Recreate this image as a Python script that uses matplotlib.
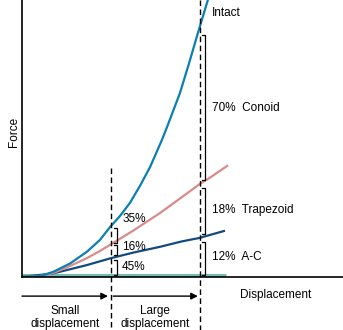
import matplotlib.pyplot as plt

plt.rcParams['font.family'] = ['Liberation Sans', 'DejaVu Sans']

# curves (displacement 0-10, force 0-100)
intact_x = [0, 0.56, 0.98, 1.50, 2.02, 2.43, 2.74, 3.05, 3.36, 3.68, 3.99, 4.36,
            4.52, 4.92, 5.20, 5.48, 5.79]
intact_y = [0, 0.3, 1.9, 4.9, 9.1, 13.4, 18.0, 22.0, 26.7, 33.0, 39.7, 49.5,
            54.2, 66.4, 77.0, 88.1, 100]
trap_x = [0, 0.56, 0.97, 1.50, 2.02, 2.43, 2.77, 3.50, 4.30, 5.00, 5.53, 5.86, 6.39]
trap_y = [0, 0.4, 1.4, 4.0, 6.8, 9.4, 11.8, 17.0, 23.1, 29.0, 33.5, 35.9, 40.1]
ac_x = [0, 0.97, 1.50, 2.02, 2.77, 3.50, 4.30, 5.00, 5.53, 5.86, 6.29]
ac_y = [0, 1.3, 2.8, 4.3, 6.8, 8.9, 10.9, 12.9, 14.1, 15.2, 16.6]
base_x = [0, 6.36]
base_y = [0.7, 0.7]

small_pct = ['35%', '16%', '45%']
large_labels = ['70%  Conoid', '18%  Trapezoid', '12%  A-C']

fig = plt.figure(figsize=(3.43, 3.30), dpi=100)
ax = fig.add_axes([22/343, 53/330, 321/343, 277/330])
ax.set_xlim(0, 10)
ax.set_ylim(0, 100)
ax.spines['top'].set_visible(False)
ax.spines['right'].set_visible(False)
ax.spines['left'].set_linewidth(1.2)
ax.spines['bottom'].set_linewidth(1.2)
ax.set_xticks([])
ax.set_yticks([])

ax.plot(base_x, base_y, color='#72bdb5', lw=2.2, solid_capstyle='butt')
ax.plot(ac_x, ac_y, color='#124a80', lw=1.6)
ax.plot(trap_x, trap_y, color='#d98a8a', lw=1.6)
ax.plot(intact_x, intact_y, color='#0a7fb0', lw=1.6)

# dashed limits
x1, x2 = 2.77, 5.53
ax.plot([x1, x1], [39.5, -19.5], 'k--', lw=1.0, dashes=(4, 2.5), clip_on=False)
ax.plot([x2, x2], [100, -19.5], 'k--', lw=1.0, dashes=(4, 2.5), clip_on=False)

def bracket(x, y0, y1, w):
    ax.plot([x - w, x, x, x - w], [y0, y0, y1, y1], color='k', lw=0.9, clip_on=False)

for y0, y1 in [(17.7, 12.3), (11.6, 7.9), (6.1, 0.9)]:
    bracket(2.96, y0, y1, 0.09)
for y0, y1 in [(87.4, 35.0), (32.1, 15.5), (12.6, 0.9)]:
    bracket(5.70, y0, y1, 0.09)

fs = 8.5
for lab, y in zip(small_pct, [20.9, 10.8, 3.6]):
    ax.text(3.12, y, lab, fontsize=fs, va='center', ha='left')
ax.text(5.92, 95.3, 'Intact', fontsize=fs, va='center', ha='left')
for lab, y in zip(large_labels, [61.0, 24.2, 7.2]):
    ax.text(5.92, y, lab, fontsize=fs, va='center', ha='left')

# arrows under the axis
ap = dict(arrowstyle='-|>', color='k', lw=1.0, mutation_scale=10, shrinkA=0, shrinkB=0)
ax.annotate('', xy=(2.68, -6.9), xytext=(0, -6.9), arrowprops=ap, annotation_clip=False)
ax.annotate('', xy=(5.48, -6.9), xytext=(2.84, -6.9), arrowprops=ap, annotation_clip=False)

ax.text(1.34, -14.6, 'Small\ndisplacement', fontsize=fs, ha='center', va='center',
        linespacing=1.1, clip_on=False)
ax.text(4.14, -14.6, 'Large\ndisplacement', fontsize=fs, ha='center', va='center',
        linespacing=1.1, clip_on=False)
ax.text(7.91, -6.5, 'Displacement', fontsize=fs, ha='center', va='center', clip_on=False)
fig.text(14/343, 1 - 132/330, 'Force', fontsize=fs, rotation=90, ha='center', va='center')

fig.savefig('out.png', dpi=100)
